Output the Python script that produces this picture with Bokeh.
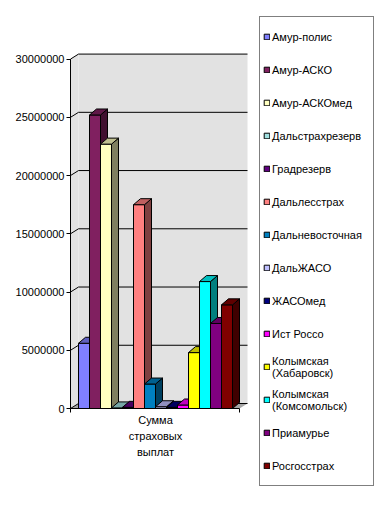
from bokeh.plotting import figure
from bokeh.models import Range1d, FixedTicker, Legend, LegendItem, NumeralTickFormatter
from bokeh.core.properties import value
from bokeh.embed import file_html
from bokeh.resources import INLINE

# ---- data ----
companies = ["Амур-полис", "Амур-АСКО", "Амур-АСКОмед", "Дальстрахрезерв", "Градрезерв",
             "Дальлесстрах", "Дальневосточная", "ДальЖАСО", "ЖАСОмед", "Ист Россо",
             "Колымская (Хабаровск)", "Колымская (Комсомольск)", "Приамурье", "Росгосстрах"]
payouts = [5600000, 25200000, 22700000, 50000, 100000, 17500000, 2100000,
           150000, 100000, 300000, 4800000, 10900000, 7300000, 8900000]
colors = ["#8080FF", "#802060", "#FFFFC0", "#A0E0E0", "#600080", "#FF8080", "#0080C0",
          "#C0C0FF", "#000080", "#FF00FF", "#FFFF00", "#00FFFF", "#800080", "#800000"]
y_ticks = [0, 5000000, 10000000, 15000000, 20000000, 25000000, 30000000]
category = "Сумма страховых выплат"

# ---- layout (canvas px) ----
W, H = 376, 508
FL, FR, FT, FB = 69, 375, 10, 500
PXX = 11.0            # px per bar slot
PXY = 11.647e-6       # px per value unit
BX0, BY0 = 78, 408    # canvas position of bar 0 left / value 0

x_start = (FL - BX0) / PXX
x_end = (FR - BX0) / PXX
y_start = -(FB - BY0) / PXY
y_end = (BY0 - FT) / PXY

p = figure(width=W, height=H, x_range=Range1d(x_start, x_end), y_range=Range1d(y_start, y_end),
           output_backend="svg", toolbar_location=None, x_axis_location=None,
           min_border_left=FL, min_border_right=W - FR, min_border_top=FT, min_border_bottom=H - FB)
p.outline_line_color = None
p.grid.visible = False
p.background_fill_color = "white"
p.border_fill_color = "white"

ymax = y_ticks[-1]
fx = (70 - BX0) / PXX          # front axis
dxw, dyw = 8 / PXX, 5 / PXY    # wall depth
dxb, dyb = 7 / PXX, 6 / PXY    # bar depth
bwl = fx + dxw
bwr = (247 - BX0) / PXX
ffr = bwr - dxw

wall = "#e2e2e2"
p.patch([bwl, bwr, bwr, bwl], [dyw, dyw, ymax + dyw, ymax + dyw], fill_color=wall, line_color=None)
p.patch([fx, bwl, bwl, fx], [0, dyw, ymax + dyw, ymax], fill_color=wall, line_color=None)
p.patch([fx, ffr, bwr, bwl], [0, 0, dyw, dyw], fill_color="#a6a6a6", line_color=None)

# gridlines on walls
p.segment(x0=[bwl] * len(y_ticks), y0=[t + dyw for t in y_ticks],
          x1=[bwr] * len(y_ticks), y1=[t + dyw for t in y_ticks], line_color="black", line_width=1)
p.segment(x0=[fx] * len(y_ticks), y0=y_ticks,
          x1=[bwl] * len(y_ticks), y1=[t + dyw for t in y_ticks], line_color="black", line_width=1)


def shade(c, f):
    r, g, b = int(c[1:3], 16), int(c[3:5], 16), int(c[5:7], 16)
    return "#%02x%02x%02x" % (int(r * f), int(g * f), int(b * f))


items = []
for i, (name, v, c) in enumerate(zip(companies, payouts, colors)):
    fr = p.quad(left=i, right=i + 1, bottom=0, top=v, fill_color=c, line_color="black", line_width=1)
    p.patch([i + 1, i + 1, i + 1 + dxb, i + 1 + dxb], [0, v, v + dyb, dyb],
            fill_color=shade(c, 0.5), line_color="black", line_width=1)
    p.patch([i, i + 1, i + 1 + dxb, i + dxb], [v, v, v + dyb, v + dyb],
            fill_color=shade(c, 0.75), line_color="black", line_width=1)
    items.append(LegendItem(label=name.replace(" (", "\n("), renderers=[fr]))

# front axis, floor edge and category ticks
tick_len = 4 / PXY
p.segment(x0=[fx], y0=[0], x1=[fx], y1=[ymax], line_color="black", line_width=1)
p.segment(x0=[fx], y0=[0], x1=[ffr], y1=[0], line_color="black", line_width=1)
p.segment(x0=[fx, ffr], y0=[0, 0], x1=[fx, ffr], y1=[-tick_len, -tick_len],
          line_color="black", line_width=1)

font = "Liberation Sans"
cat_x = len(companies) / 2
p.text(x=[cat_x], y=[0], text=[category.replace(" ", "\n")], y_offset=5,
       text_align="center", text_baseline="top", text_font=value(font),
       text_font_size="11px", text_color="black", text_line_height=1.35)

ya = p.yaxis[0]
ya.ticker = FixedTicker(ticks=y_ticks)
ya.formatter = NumeralTickFormatter(format="0")
ya.axis_line_color = None
ya.major_tick_out = 3
ya.major_tick_in = 1
ya.minor_tick_line_color = None
ya.major_label_standoff = 2
ya.major_label_text_font = font
ya.major_label_text_font_size = "11px"
ya.major_label_text_color = "black"

legend = Legend(items=items, location=(259 - FL, FB - 486), padding=3, spacing=0,
                label_height=33, glyph_height=7, glyph_width=7, label_standoff=2, label_width=98,
                margin=0, label_text_font=font, label_text_font_size="11px", label_text_color="black",
                border_line_color="black", border_line_width=1, background_fill_color="white",
                background_fill_alpha=1.0)
p.add_layout(legend)

open("out.html", "w").write(file_html(p, INLINE))
